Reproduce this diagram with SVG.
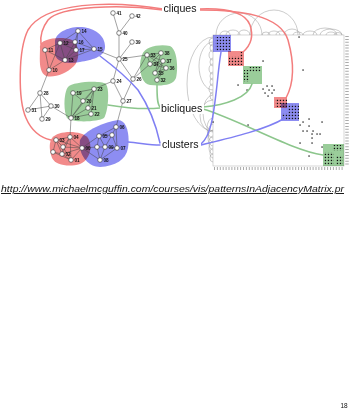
<svg xmlns="http://www.w3.org/2000/svg" width="349" height="411" viewBox="0 0 349 411">
  <style>
    .edge { stroke: #444; stroke-width: 0.5; fill: none; }
    .node circle { fill: #fff; stroke: #333; stroke-width: 0.6; }
    .node text { font-family: "Liberation Sans", Arial, sans-serif; font-weight: bold; font-size: 4.6px; fill: #111; }
    .blob { mix-blend-mode: multiply; }
    .red { fill: #f28a8a; }
    .blue { fill: #8d8df2; }
    .green { fill: #9acd9a; }
    .label { font-family: "Liberation Sans", Arial, sans-serif; font-size: 10.6px; fill: #111; }
    .lnk { fill: none; stroke-width: 1.5; stroke-linecap: round; }
    .lred { stroke: #f37d7d; }
    .lblue { stroke: #7f7ff3; }
    .lgreen { stroke: #8cc68c; }
    .arc { fill: none; stroke: #999; stroke-width: 0.5; }
  </style>
  <defs>
    <pattern id="dots" width="3" height="3" patternUnits="userSpaceOnUse">
      <rect x="0.8" y="0.8" width="1.3" height="1.3" fill="#111"/>
    </pattern>
  </defs>
  <rect width="349" height="411" fill="#fff"/>

  <!-- highlighted groups in the node-link view -->
  <g id="groups">
    <path class="blob red" d="M40,48 C38,38 62,36 72,40 C80,44 80,60 74,66 C66,74 54,78 46,76 C38,72 40,58 40,48 Z"/>
    <path class="blob blue" d="M55,42 C55,32 70,26 82,27 C95,28 106,36 105,48 C104,57 92,60 80,62 C68,64 58,63 55,55 Z"/>
    <path class="blob green" d="M142,55 C145,46 160,44 170,46 C178,50 178,70 176,78 C173,86 160,86 150,85 C140,84 138,65 142,55 Z"/>
    <path class="blob green" d="M68,87 C72,82 100,80 106,84 C110,90 108,112 104,118 C98,122 72,123 67,118 C63,110 64,92 68,87 Z"/>
    <path class="blob red" d="M52,138 C58,130 82,130 88,138 C93,146 90,160 80,164 C70,167 56,166 52,158 C49,150 49,142 52,138 Z"/>
    <path class="blob blue" d="M80,140 C85,130 105,122 118,120 C127,120 130,135 128,148 C126,160 115,166 100,167 C88,167 78,155 80,140 Z"/>
  </g>

  <!-- adjacency matrix view -->
  <g id="matrix">
    <rect x="213" y="35" width="131" height="131" fill="#fff" stroke="#bbb" stroke-width="0.6"/>
    <!-- arcs above the matrix -->
    <path class="arc" d="M216,35 A23,22 0 0 1 262,35 M250,35 A24,25 0 0 1 298,35 M220,35 A5,4 0 0 1 230,35 M226,35 A7,5 0 0 1 240,35 M238,35 A6,5 0 0 1 250,35 M262,35 A4,3 0 0 1 270,35 M268,35 A6,4 0 0 1 280,35 M276,35 A5,4 0 0 1 286,35 M284,35 A8,6 0 0 1 300,35 M293,35 A5,3 0 0 1 303,35 M303,35 A7,4 0 0 1 317,35 M313,35 A12,7 0 0 1 337,35 M320,35 A11,6 0 0 1 342,35 M326,35 A5,3 0 0 1 336,35 M334,35 A4,2.5 0 0 1 342,35"/>
    <!-- arcs left of the matrix -->
    <path class="arc" d="M213,37 A26,47 0 0 0 213,131 M213,42 A14,24 0 0 0 213,90 M213,95 A10,18 0 0 0 213,131 M213,100 A13,16 0 0 0 213,132 M213,38 A4,4 0 0 0 213,46 M213,44 A3,4 0 0 0 213,52 M213,50 A4,5 0 0 0 213,60 M213,58 A3,4 0 0 0 213,66 M213,64 A4,5 0 0 0 213,74 M213,72 A3,4 0 0 0 213,80 M213,78 A3,4 0 0 0 213,86 M213,84 A4,5 0 0 0 213,94 M213,92 A3,4 0 0 0 213,100 M213,118 A6,10 0 0 0 213,138 M213,124 A5,9 0 0 0 213,142 M213,130 A5,8 0 0 0 213,146 M213,136 A4,7 0 0 0 213,150 M213,142 A4,6 0 0 0 213,154 M213,148 A3,5 0 0 0 213,158 M213,154 A3,4 0 0 0 213,162"/>
    <!-- diagonal blocks -->
    <rect class="blob blue" x="213" y="35" width="18" height="17"/>
    <rect class="blob red" x="228" y="51" width="16" height="15"/>
    <rect class="blob green" x="243" y="66" width="19" height="18"/>
    <rect class="blob red" x="274" y="97" width="13" height="11"/>
    <rect class="blob blue" x="281" y="103" width="18" height="18"/>
    <rect class="blob green" x="323" y="144" width="21" height="22"/>
    <!-- filled cells inside the blocks -->
    <g fill="url(#dots)">
      <rect x="215" y="37" width="15" height="14"/>
      <rect x="229" y="56" width="14" height="9"/>
      <rect x="240" y="52" width="3" height="5"/>
      <rect x="249" y="67" width="12" height="5"/>
      <rect x="244" y="70" width="5" height="12"/>
      <rect x="275" y="99" width="12" height="8"/>
      <rect x="288" y="104" width="11" height="16"/>
      <rect x="282" y="113" width="7" height="7"/>
      <rect x="333" y="145" width="10" height="6"/>
      <rect x="324" y="152" width="10" height="13"/>
      <rect x="336" y="156" width="7" height="9"/>
    </g>
    <!-- scattered cells -->
    <g fill="#111">
      <rect x="262.4" y="60.4" width="1.3" height="1.3"/>
      <rect x="302.4" y="69.4" width="1.3" height="1.3"/>
      <rect x="298.4" y="36.4" width="1.3" height="1.3"/>
      <rect x="237.4" y="84.4" width="1.3" height="1.3"/>
      <rect x="246.4" y="89.4" width="1.3" height="1.3"/>
      <rect x="266.4" y="85.4" width="1.3" height="1.3"/>
      <rect x="271.4" y="85.4" width="1.3" height="1.3"/>
      <rect x="262.4" y="88.4" width="1.3" height="1.3"/>
      <rect x="268.4" y="89.4" width="1.3" height="1.3"/>
      <rect x="273.4" y="89.4" width="1.3" height="1.3"/>
      <rect x="264.4" y="92.4" width="1.3" height="1.3"/>
      <rect x="271.4" y="92.4" width="1.3" height="1.3"/>
      <rect x="267.4" y="95.4" width="1.3" height="1.3"/>
      <rect x="247.4" y="124.4" width="1.3" height="1.3"/>
      <rect x="212.4" y="121.4" width="1.3" height="1.3"/>
      <rect x="302.4" y="121.4" width="1.3" height="1.3"/>
      <rect x="308.4" y="118.4" width="1.3" height="1.3"/>
      <rect x="321.4" y="121.4" width="1.3" height="1.3"/>
      <rect x="299.4" y="124.4" width="1.3" height="1.3"/>
      <rect x="308.4" y="125.4" width="1.3" height="1.3"/>
      <rect x="302.4" y="130.4" width="1.3" height="1.3"/>
      <rect x="306.4" y="130.4" width="1.3" height="1.3"/>
      <rect x="312.4" y="130.4" width="1.3" height="1.3"/>
      <rect x="316.4" y="133.4" width="1.3" height="1.3"/>
      <rect x="319.4" y="133.4" width="1.3" height="1.3"/>
      <rect x="311.4" y="133.4" width="1.3" height="1.3"/>
      <rect x="311.4" y="137.4" width="1.3" height="1.3"/>
      <rect x="299.4" y="142.4" width="1.3" height="1.3"/>
      <rect x="311.4" y="142.4" width="1.3" height="1.3"/>
      <rect x="308.4" y="155.4" width="1.3" height="1.3"/>
      <rect x="321.4" y="146.4" width="1.3" height="1.3"/>
    </g>
    <!-- row and column labels -->
    <line x1="214" y1="168.5" x2="344" y2="168.5" stroke="#aaa" stroke-width="3" stroke-dasharray="1 1.9"/>
    <line x1="347" y1="36" x2="347" y2="166" stroke="#aaa" stroke-width="3.5" stroke-dasharray="1 1.9"/>
  </g>

  <!-- graph edges and callout connectors -->
  <g id="connectors">
    <path class="edge" d="M113,13 L119,33 M132,16 L119,33 M119,33 L119,59 M132,42 L119,59 M94,49 L119,59 M119,59 L147,55 M119,59 L113,81 M119,59 L133,79 M113,81 L123,101 M113,81 L94,89 M133,79 L150,64 M133,79 L147,55 M133,79 L123,101 M123,101 L116,127
      M49,70 L45,50 M49,70 L60,43 M49,70 L65,60 M45,50 L60,43 M45,50 L65,60 M60,43 L65,60
      M60,43 L78,31 M60,43 L75,42 M60,43 L76,50 M78,31 L75,42 M78,31 L94,49 M78,31 L76,50 M75,42 L76,50 M75,42 L94,49 M76,50 L94,49 M65,60 L76,50 M65,60 L94,49 M65,60 L75,42
      M49,70 L40,93 M40,93 L28,110 M40,93 L51,106 M40,93 L42,119 M28,110 L51,106 M51,106 L42,119 M51,106 L71,118
      M73,93 L94,89 M73,93 L83,101 M73,93 L71,118 M94,89 L83,101 M94,89 L88,108 M94,89 L91,114 M94,89 L71,118 M83,101 L71,118 M88,108 L71,118 M91,114 L71,118
      M71,118 L70,137
      M147,55 L161,53 M147,55 L163,61 M147,55 L166,68 M150,64 L161,53 M150,64 L163,61 M150,64 L166,68 M155,73 L161,53 M155,73 L163,61 M155,73 L166,68 M157,80 L163,61 M157,80 L166,68 M147,55 L150,64
      M56,140 L70,137 M56,140 L62,154 M56,140 L82,148 M56,140 L63,147 M56,140 L53,152 M70,137 L82,148 M70,137 L63,147 M70,137 L71,160 M70,137 L62,154 M62,154 L71,160 M62,154 L82,148 M63,147 L71,160 M63,147 L82,148 M53,152 L62,154 M53,152 L71,160 M63,147 L62,154 M71,160 L82,148
      M82,148 L99,136 M82,148 L97,147 M82,148 L100,160 M99,136 L116,127 M99,136 L112,135 M99,136 L105,147 M99,136 L97,147 M116,127 L112,135 M116,127 L117,148 M112,135 L117,148 M112,135 L105,147 M105,147 L117,148 M105,147 L100,160 M105,147 L97,147 M100,160 L117,148 M97,147 L100,160"/>

    <!-- cliques -->
    <path class="lnk lred" d="M163,10 C120,4 60,6 48,20 C42,28 40,36 41,44"/>
    <path class="lnk lred" d="M163,9 C110,0 45,2 28,30 C18,50 18,100 26,118 C32,132 42,138 51,140"/>
    <path class="lnk lred" d="M200,9 C225,8 245,12 250,25 C254,37 250,46 243,52"/>
    <path class="lnk lred" d="M200,10 C240,10 280,15 288,40 C295,65 293,85 286,98"/>
    <!-- bicliques -->
    <path class="lnk lgreen" d="M160,108 C140,110 120,107 108,105"/>
    <path class="lnk lgreen" d="M160,107 C157,104 157,95 157,85"/>
    <path class="lnk lgreen" d="M203,107 C225,105 248,98 252,84"/>
    <path class="lnk lgreen" d="M203,109 C240,120 290,150 323,155"/>
    <!-- clusters -->
    <path class="lnk lblue" d="M160,143 C155,120 148,105 138,90 C125,75 112,65 100,56"/>
    <path class="lnk lblue" d="M160,145 C150,145 140,143 128,142"/>
    <path class="lnk lblue" d="M201,144 C212,135 214,110 217,85 C219,65 220,58 221,52"/>
    <path class="lnk lblue" d="M201,145 C230,138 265,130 285,118"/>
  </g>

  <!-- graph nodes -->
  <g id="n41" class="node"><circle cx="113" cy="13" r="2.3"/><text x="116.5" y="14.6">41</text></g>
  <g id="n42" class="node"><circle cx="132" cy="16" r="2.3"/><text x="135.5" y="17.6">42</text></g>
  <g id="n40" class="node"><circle cx="119" cy="33" r="2.3"/><text x="122.5" y="34.6">40</text></g>
  <g id="n39" class="node"><circle cx="132" cy="42" r="2.3"/><text x="135.5" y="43.6">39</text></g>
  <g id="n25" class="node"><circle cx="119" cy="59" r="2.3"/><text x="122.5" y="60.6">25</text></g>
  <g id="n24" class="node"><circle cx="113" cy="81" r="2.3"/><text x="116.5" y="82.6">24</text></g>
  <g id="n26" class="node"><circle cx="133" cy="79" r="2.3"/><text x="136.5" y="80.6">26</text></g>
  <g id="n27" class="node"><circle cx="123" cy="101" r="2.3"/><text x="126.5" y="102.6">27</text></g>
  <g id="n14" class="node"><circle cx="78" cy="31" r="2.3"/><text x="81.5" y="32.6">14</text></g>
  <g id="n12" class="node"><circle cx="60" cy="43" r="2.3"/><text x="63.5" y="44.6">12</text></g>
  <g id="n16" class="node"><circle cx="75" cy="42" r="2.3"/><text x="78.5" y="43.6">16</text></g>
  <g id="n11" class="node"><circle cx="45" cy="50" r="2.3"/><text x="48.5" y="51.6">11</text></g>
  <g id="n17" class="node"><circle cx="76" cy="50" r="2.3"/><text x="79.5" y="51.6">17</text></g>
  <g id="n15" class="node"><circle cx="94" cy="49" r="2.3"/><text x="97.5" y="50.6">15</text></g>
  <g id="n13" class="node"><circle cx="65" cy="60" r="2.3"/><text x="68.5" y="61.6">13</text></g>
  <g id="n10" class="node"><circle cx="49" cy="70" r="2.3"/><text x="52.5" y="71.6">10</text></g>
  <g id="n28" class="node"><circle cx="40" cy="93" r="2.3"/><text x="43.5" y="94.6">28</text></g>
  <g id="n31" class="node"><circle cx="28" cy="110" r="2.3"/><text x="31.5" y="111.6">31</text></g>
  <g id="n30" class="node"><circle cx="51" cy="106" r="2.3"/><text x="54.5" y="107.6">30</text></g>
  <g id="n29" class="node"><circle cx="42" cy="119" r="2.3"/><text x="45.5" y="120.6">29</text></g>
  <g id="n19" class="node"><circle cx="73" cy="93" r="2.3"/><text x="76.5" y="94.6">19</text></g>
  <g id="n23" class="node"><circle cx="94" cy="89" r="2.3"/><text x="97.5" y="90.6">23</text></g>
  <g id="n20" class="node"><circle cx="83" cy="101" r="2.3"/><text x="86.5" y="102.6">20</text></g>
  <g id="n21" class="node"><circle cx="88" cy="108" r="2.3"/><text x="91.5" y="109.6">21</text></g>
  <g id="n22" class="node"><circle cx="91" cy="114" r="2.3"/><text x="94.5" y="115.6">22</text></g>
  <g id="n18" class="node"><circle cx="71" cy="118" r="2.3"/><text x="74.5" y="119.6">18</text></g>
  <g id="n33" class="node"><circle cx="147" cy="55" r="2.3"/><text x="150.5" y="56.6">33</text></g>
  <g id="n38" class="node"><circle cx="161" cy="53" r="2.3"/><text x="164.5" y="54.6">38</text></g>
  <g id="n34" class="node"><circle cx="150" cy="64" r="2.3"/><text x="153.5" y="65.6">34</text></g>
  <g id="n37" class="node"><circle cx="163" cy="61" r="2.3"/><text x="166.5" y="62.6">37</text></g>
  <g id="n36" class="node"><circle cx="166" cy="68" r="2.3"/><text x="169.5" y="69.6">36</text></g>
  <g id="n35" class="node"><circle cx="155" cy="73" r="2.3"/><text x="158.5" y="74.6">35</text></g>
  <g id="n32" class="node"><circle cx="157" cy="80" r="2.3"/><text x="160.5" y="81.6">32</text></g>
  <g id="n03" class="node"><circle cx="56" cy="140" r="2.3"/><text x="59.5" y="141.6">03</text></g>
  <g id="n04" class="node"><circle cx="70" cy="137" r="2.3"/><text x="73.5" y="138.6">04</text></g>
  <g id="n02" class="node"><circle cx="62" cy="154" r="2.3"/><text x="65.5" y="155.6">02</text></g>
  <g id="n01" class="node"><circle cx="71" cy="160" r="2.3"/><text x="74.5" y="161.6">01</text></g>
  <g id="n00" class="node"><circle cx="82" cy="148" r="2.3"/><text x="85.5" y="149.6">00</text></g>
  <g id="nx1" class="node"><circle cx="63" cy="147" r="2.3"/></g>
  <g id="nx2" class="node"><circle cx="53" cy="152" r="2.3"/></g>
  <g id="n06" class="node"><circle cx="116" cy="127" r="2.3"/><text x="119.5" y="128.6">06</text></g>
  <g id="n05" class="node"><circle cx="99" cy="136" r="2.3"/><text x="102.5" y="137.6">05</text></g>
  <g id="nxb" class="node"><circle cx="112" cy="135" r="2.3"/></g>
  <g id="nxc" class="node"><circle cx="97" cy="147" r="2.3"/></g>
  <g id="n09" class="node"><circle cx="105" cy="147" r="2.3"/><text x="108.5" y="148.6">09</text></g>
  <g id="n07" class="node"><circle cx="117" cy="148" r="2.3"/><text x="120.5" y="149.6">07</text></g>
  <g id="n08" class="node"><circle cx="100" cy="160" r="2.3"/><text x="103.5" y="161.6">08</text></g>

  <!-- callout labels -->
  <g id="cliques"><rect x="162" y="2" width="38" height="13" fill="#fff"/><text class="label" x="163.5" y="12">cliques</text></g>
  <g id="bicliques"><rect x="160" y="101" width="44" height="13" fill="#fff"/><text class="label" x="161" y="111.5">bicliques</text></g>
  <g id="clusters"><rect x="161" y="137" width="40" height="13" fill="#fff"/><text class="label" x="162" y="147.5">clusters</text></g>

  <!-- source and page number -->
  <text x="1" y="192" font-family="'Liberation Sans', Arial, sans-serif" font-style="italic" font-size="9.6" fill="#111" text-decoration="underline" textLength="343" lengthAdjust="spacingAndGlyphs">http://www.michaelmcguffin.com/courses/vis/patternsInAdjacencyMatrix.pr</text>
  <text x="340.5" y="407.5" font-family="'Liberation Sans', Arial, sans-serif" font-size="6.5" fill="#111">18</text>
</svg>
